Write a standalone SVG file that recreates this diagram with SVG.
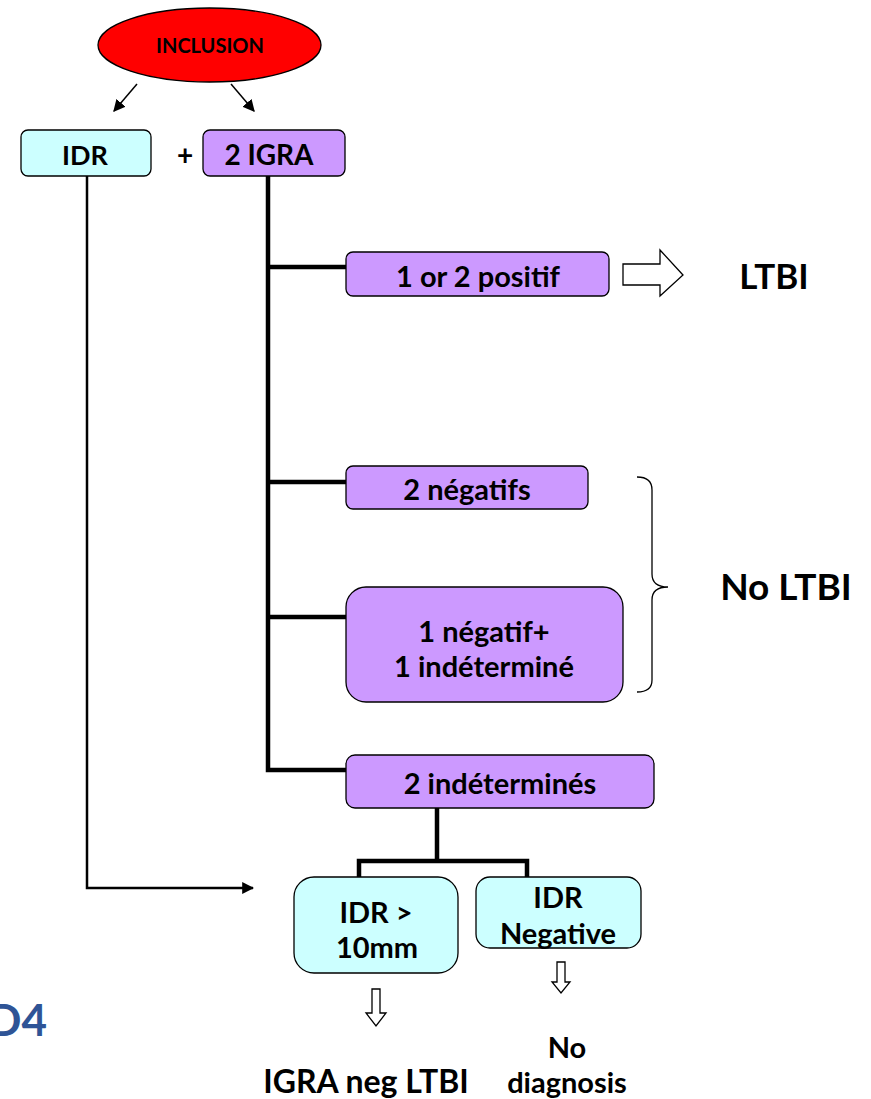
<svg xmlns="http://www.w3.org/2000/svg" width="871" height="1099" viewBox="0 0 871 1099">
<defs>
<marker id="ah2" viewBox="0 0 10 10" refX="9" refY="5" markerWidth="12" markerHeight="12" markerUnits="userSpaceOnUse" orient="auto"><path d="M0,0 L10,5 L0,10 z" fill="#000"/></marker>
<style>
text{font-family:Lato,"Liberation Sans",sans-serif;font-weight:bold;fill:#000;text-anchor:middle;dominant-baseline:central}
.cyan{fill:#CCFFFF;stroke:#000;stroke-width:1.3}
.purp{fill:#CC99FF;stroke:#000;stroke-width:1.3}
.thick{stroke:#000;stroke-width:4.5;fill:none}
.thin{stroke:#000;stroke-width:2.5;fill:none}
.hollow{fill:#fff;stroke:#000;stroke-width:1.3}
.t{font-size:29px}
</style>
</defs>
<g id="connectors">
<line x1="137" y1="84" x2="114" y2="111" stroke="#000" stroke-width="1.5" marker-end="url(#ah2)"/>
<line x1="231" y1="84" x2="254" y2="111" stroke="#000" stroke-width="1.5" marker-end="url(#ah2)"/>
<polyline class="thin" points="87,176 87,888 253,888" marker-end="url(#ah2)"/>
<polyline class="thick" points="268,176 268,770 346,770"/>
<line class="thick" x1="268" y1="267" x2="346" y2="267"/>
<line class="thick" x1="268" y1="482" x2="346" y2="482"/>
<line class="thick" x1="268" y1="617" x2="346" y2="617"/>
<line class="thick" x1="437" y1="800" x2="437" y2="861"/>
<polyline class="thick" points="359,878 359,861 527,861 527,878"/>
<path class="hollow" d="M623,264 L660,264 L660,250 L683,275 L660,296 L660,285 L623,285 Z"/>
<path class="hollow" d="M372,989 L380,989 L380,1013 L386,1013 L376,1026 L366,1013 L372,1013 Z"/>
<path class="hollow" d="M557,962 L565,962 L565,982 L570,982 L561,993 L552,982 L557,982 Z"/>
<path d="M637,477 Q652,477 652,490 L652,574 Q652,587 668,587 Q652,587 652,600 L652,680 Q652,692 637,692" fill="none" stroke="#000" stroke-width="1.3"/>
</g>
<g id="inclusion"><ellipse cx="209.5" cy="45" rx="111.5" ry="37" fill="#FF0000" stroke="#000" stroke-width="1.3"/><text x="210" y="45" font-size="20">INCLUSION</text></g>
<g id="idr"><rect class="cyan" x="21" y="130" width="130" height="46" rx="7"/><text x="85" y="154" font-size="27">IDR</text></g>
<g id="plus"><text x="185" y="154" font-size="28">+</text></g>
<g id="igra"><rect class="purp" x="203" y="130" width="142" height="46" rx="7"/><text x="269" y="154" font-size="28">2 IGRA</text></g>
<g id="positif"><rect class="purp" x="346" y="252" width="263" height="44" rx="7"/><text class="t" x="478" y="275">1 or 2 positif</text></g>
<g id="ltbi"><text x="774" y="275" font-size="35">LTBI</text></g>
<g id="negatifs"><rect class="purp" x="346" y="466" width="242" height="43" rx="7"/><text class="t" x="467" y="488">2 négatifs</text></g>
<g id="negindet"><rect class="purp" x="346" y="587" width="277" height="115" rx="20"/><text class="t" x="484" y="630">1 négatif+</text><text class="t" x="484" y="665">1 indéterminé</text></g>
<g id="noltbi"><text x="786" y="585" font-size="37">No LTBI</text></g>
<g id="indets"><rect class="purp" x="346" y="755" width="308" height="53" rx="9"/><text class="t" x="500" y="782">2 indéterminés</text></g>
<g id="idr10"><rect class="cyan" x="294" y="877" width="164" height="96" rx="20"/><text class="t" x="376" y="911">IDR &gt;</text><text class="t" x="377" y="946">10mm</text></g>
<g id="idrneg"><rect class="cyan" x="476" y="877" width="165" height="71" rx="14"/><text class="t" x="558" y="896">IDR</text><text class="t" x="558" y="932">Negative</text></g>
<g id="igraneg"><text x="366" y="1080" font-size="32">IGRA neg LTBI</text></g>
<g id="nodiag"><text class="t" x="567" y="1046">No</text><text class="t" x="567" y="1081">diagnosis</text></g>
<g id="d4"><text x="47" y="1019" font-size="44" style="text-anchor:end;fill:#2F5496">D4</text></g>
</svg>
